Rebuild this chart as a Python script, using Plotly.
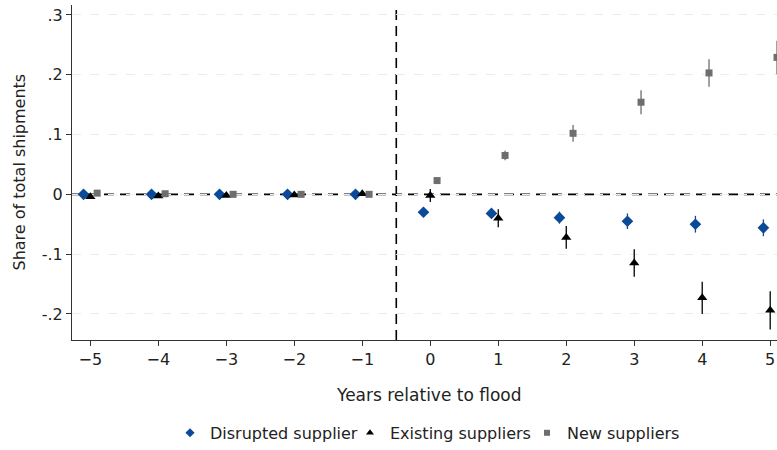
import plotly.graph_objects as go

years = [-5, -4, -3, -2, -1, 0, 1, 2, 3, 4, 5]

disrupted = [0.0, 0.0, 0.0, 0.0, 0.0, -0.030, -0.032, -0.039, -0.045, -0.050, -0.056]
disrupted_err = [0.0, 0.0, 0.0, 0.0, 0.0, 0.003, 0.006, 0.010, 0.013, 0.014, 0.014]

existing = [-0.004, -0.003, -0.002, -0.001, 0.001, -0.002, -0.040, -0.072, -0.115, -0.173, -0.194]
existing_err = [0.0, 0.0, 0.0, 0.0, 0.0, 0.011, 0.015, 0.019, 0.023, 0.027, 0.032]

new = [0.002, 0.001, 0.0, 0.0, 0.0, 0.023, 0.065, 0.102, 0.154, 0.203, 0.229]
new_err = [0.0, 0.0, 0.0, 0.0, 0.0, 0.002, 0.008, 0.014, 0.020, 0.023, 0.028]

ytick_vals = [0.3, 0.2, 0.1, 0.0, -0.1, -0.2]
ytick_text = [".3", ".2", ".1", "0", "-.1", "-.2"]

BLUE = "#0b4a98"
BLACK = "#000000"
GRAY = "#6e6e6e"
FONT = "DejaVu Sans"
TXT = "#222222"
FS = 16

W, H = 777, 450
ML, MT, MB = 72, 5, 106
PW, PH = W - ML, H - MT - MB

fig = go.Figure()

series = [
    ("Disrupted supplier", disrupted, disrupted_err, -0.1, BLUE, "diamond", 9, 7, "legend", 170),
    ("Existing suppliers", existing, existing_err, 0.0, BLACK, "triangle-up", 9, 7, "legend2", 350),
    ("New suppliers", new, new_err, 0.1, GRAY, "square", 7, 6, "legend3", 527),
]

legends = {}
for name, vals, errs, shift, color, symbol, size, lsize, leg, lx in series:
    fig.add_trace(go.Scatter(
        x=[y + shift for y in years], y=vals, name=name, mode="markers",
        marker=dict(symbol=symbol, size=size, color=color, line=dict(width=0)),
        error_y=dict(type="data", array=errs, visible=True, color=color,
                     thickness=1.3, width=0),
        cliponaxis=False, showlegend=False,
    ))
    # legend-only entry with a smaller key marker
    fig.add_trace(go.Scatter(
        x=[None], y=[None], name=name, mode="markers",
        marker=dict(symbol=symbol, size=lsize, color=color, line=dict(width=0)),
        showlegend=True, legend=leg,
    ))
    legends[leg] = dict(orientation="h", x=(lx - ML) / PW, xanchor="left",
                        y=(PH + MT - 438) / PH, yanchor="middle",
                        font=dict(family=FONT, size=FS, color=TXT),
                        bgcolor="rgba(0,0,0,0)", itemwidth=30)

fig.add_shape(type="line", xref="paper", yref="y", x0=0, x1=1, y0=0, y1=0,
              line=dict(color="black", width=1.6, dash="10px,6px"), layer="below")
fig.add_shape(type="line", xref="x", yref="paper", x0=-0.5, x1=-0.5, y0=0, y1=1,
              line=dict(color="black", width=1.6, dash="10px,6px"), layer="below")

fig.add_annotation(text="Years relative to flood", xref="paper", yref="paper",
                   x=(429 - ML) / PW, y=(PH + MT - 400) / PH, showarrow=False,
                   xanchor="center", yanchor="middle",
                   font=dict(family=FONT, size=17, color=TXT))
fig.add_annotation(text="Share of total shipments", xref="paper", yref="paper",
                   x=(19 - ML) / PW, y=0.5, showarrow=False, textangle=-90,
                   xanchor="center", yanchor="middle",
                   font=dict(family=FONT, size=FS, color=TXT))

fig.update_layout(
    width=W, height=H,
    margin=dict(l=ML, r=0, t=MT, b=MB),
    paper_bgcolor="white", plot_bgcolor="white",
    font=dict(family=FONT, size=FS, color=TXT),
    showlegend=True,
    xaxis=dict(range=[-5.27, 5.1], tickvals=years, showgrid=False, zeroline=False,
               showline=True, linecolor="#333", linewidth=1.2,
               ticks="outside", ticklen=5, tickcolor="#333",
               tickfont=dict(family=FONT, size=FS, color=TXT)),
    yaxis=dict(range=[-0.2436, 0.3166], tickvals=ytick_vals, ticktext=ytick_text,
               showgrid=True, gridcolor="#ececec", griddash="dash", gridwidth=1,
               zeroline=False, showline=True, linecolor="#333", linewidth=1.2,
               ticks="outside", ticklen=5, tickcolor="#333",
               tickfont=dict(family=FONT, size=FS, color=TXT)),
    **legends,
)

fig.write_html("out.html", config={"displayModeBar": False},
               post_script="document.body.style.margin='0';")
